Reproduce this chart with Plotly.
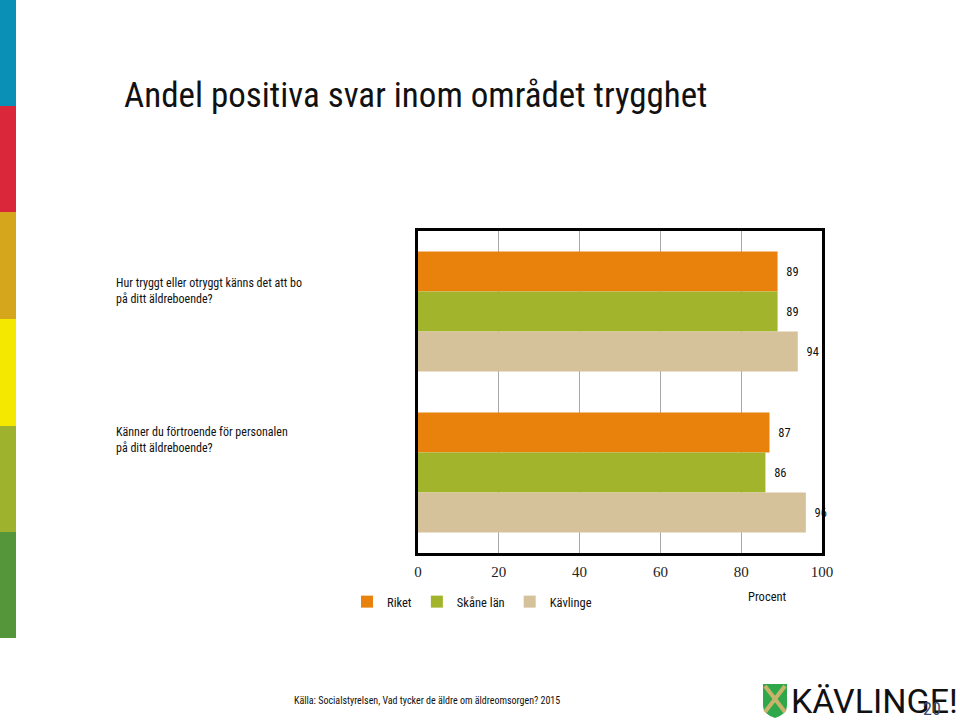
import plotly.graph_objects as go

# ---- data ----
questions = [
    "Hur tryggt eller otryggt känns det att bo<br>på ditt äldreboende?",
    "Känner du förtroende för personalen<br>på ditt äldreboende?",
]
series_names = ["Riket", "Skåne län", "Kävlinge"]
riket = [89, 87]
skane = [89, 86]
kavlinge = [94, 96]
tick_vals = [0, 20, 40, 60, 80, 100]

series_values = [riket, skane, kavlinge]
colors = ["#E8820C", "#A2B42C", "#D5C19A"]

W, H = 960, 722
L, R, T, B = 418, 822, 231, 553  # plot area in px

def px(x):
    return (x - L) / (R - L)

def py(y):
    return (B - y) / (B - T)

COND = "Roboto Condensed, DejaVu Sans Condensed, sans-serif"
cats = ["q1", "q2"]

fig = go.Figure()
for name, vals, col in zip(series_names, series_values, colors):
    fig.add_trace(go.Bar(
        y=cats, x=vals, name=name, orientation="h",
        marker=dict(color=col, line=dict(width=0)),
        text=["\u00a0\u00a0" + str(v) for v in vals],
        textposition="outside",
        textfont=dict(family=COND, size=12.5, color="#111"),
        cliponaxis=False,
    ))

fig.update_layout(
    width=W, height=H,
    margin=dict(l=L, r=W - R, t=T, b=H - B, pad=0),
    paper_bgcolor="white", plot_bgcolor="white",
    barmode="group", bargap=0.255, bargroupgap=0,
    showlegend=True,
    legend=dict(orientation="h", x=px(347), y=py(602), xanchor="left", yanchor="middle",
                font=dict(family=COND, size=12.5, color="#111"),
                itemwidth=30, traceorder="normal"),
)
fig.update_xaxes(range=[0, 100], tickvals=tick_vals, showgrid=True, gridcolor="#A8A8A8", gridwidth=1,
                 showline=True, mirror=True, linecolor="black", linewidth=3, zeroline=False,
                 ticks="", ticklabelstandoff=3,
                 tickfont=dict(family="Liberation Serif, DejaVu Serif, serif", size=15, color="#222"))
fig.update_yaxes(autorange="reversed", showticklabels=False, showgrid=False,
                 showline=True, mirror=True, linecolor="black", linewidth=3, ticks="")

label_shift = [21, 33]
for c, q, s in zip(cats, questions, label_shift):
    fig.add_annotation(x=px(114), xref="paper", y=c, yref="y", yshift=s, text=q,
                       xanchor="left", yanchor="middle", align="left", showarrow=False,
                       font=dict(family=COND, size=12, color="#111"))

fig.add_annotation(x=px(122), xref="paper", y=py(95), yref="paper", text="Andel positiva svar inom området trygghet",
                   xanchor="left", yanchor="middle", showarrow=False,
                   font=dict(family=COND, size=35, color="#111"))
fig.add_annotation(x=px(767), xref="paper", y=py(596), yref="paper", text="Procent",
                   xanchor="center", yanchor="middle", showarrow=False,
                   font=dict(family=COND, size=12.5, color="#111"))
fig.add_annotation(x=px(292), xref="paper", y=py(700), yref="paper",
                   text="Källa: Socialstyrelsen, Vad tycker de äldre om äldreomsorgen? 2015",
                   xanchor="left", yanchor="middle", showarrow=False,
                   font=dict(family=COND, size=10, color="#111"))

strip = [("#0A8FB6", 0, 106), ("#DA2739", 106, 212), ("#D5A61C", 212, 319),
         ("#F4E800", 319, 426), ("#9FB22E", 426, 532), ("#55963A", 532, 638)]
for col, y0, y1 in strip:
    fig.add_shape(type="rect", xref="paper", yref="paper", x0=px(0), x1=px(16), y0=py(y1), y1=py(y0),
                  fillcolor=col, line=dict(width=0), layer="below")

def pt(x, y):
    return f"{px(x):.5f},{py(y):.5f}"
shield = "M " + pt(763, 684) + " L " + pt(787, 684) + " L " + pt(787, 706) + " Q " + pt(787, 714) + " " + pt(775, 718) + \
         " Q " + pt(763, 714) + " " + pt(763, 706) + " Z"
fig.add_shape(type="path", xref="paper", yref="paper", path=shield, fillcolor="#2EA84A", line=dict(width=0))
for (xa, ya, xb, yb) in [(765, 686, 785, 712), (785, 686, 765, 712)]:
    fig.add_shape(type="line", xref="paper", yref="paper", x0=px(xa), y0=py(ya), x1=px(xb), y1=py(yb),
                  line=dict(color="#C8B36A", width=4))
fig.add_annotation(x=px(789), xref="paper", y=py(701), yref="paper", text="KÄVLINGE!",
                   xanchor="left", yanchor="middle", showarrow=False,
                   font=dict(family="Roboto, sans-serif", size=34, color="#111"))
fig.add_annotation(x=px(932), xref="paper", y=py(708), yref="paper", text="20",
                   xanchor="center", yanchor="middle", showarrow=False,
                   font=dict(family=COND, size=18, color="#3A4A6A"))

fig.write_html("out.html", config={"displayModeBar": False},
               post_script="document.body.style.margin='0';")
